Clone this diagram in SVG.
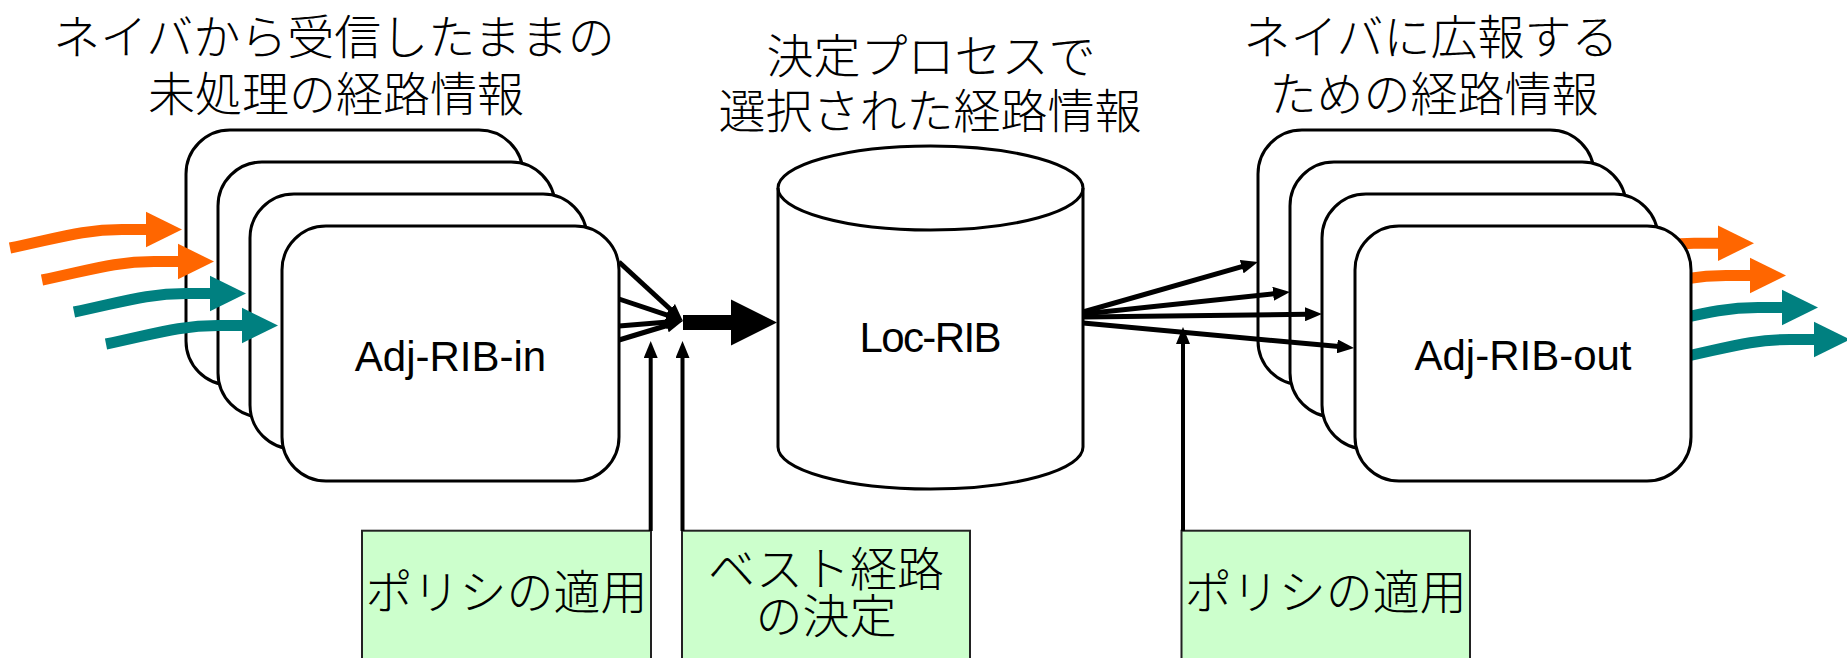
<svg xmlns="http://www.w3.org/2000/svg" xmlns:xlink="http://www.w3.org/1999/xlink" width="1847" height="658" viewBox="0 0 1847 658">
<style>
.box{fill:#fff;stroke:#000;stroke-width:3}
.jp{font-family:"Noto Sans CJK JP","Noto Sans CJK SC",sans-serif;font-size:47px;font-weight:300;fill:#000;text-anchor:middle}
.lbl{font-family:"Liberation Sans",Arial,sans-serif;font-size:42px;fill:#000;text-anchor:middle}
.pol{fill:#CCFFCC;stroke:#222;stroke-width:2}
.fan{stroke:#000;stroke-width:5;fill:none}
.vert{stroke:#000;stroke-width:4;fill:none}
</style>
<defs>
<marker id="ah" markerUnits="userSpaceOnUse" viewBox="0 0 17 14" markerWidth="17" markerHeight="14" refX="2" refY="7" orient="auto">
<path d="M0,0 L17,7 L0,14 Z" fill="#000"/>
</marker>
<g id="ca">
<path d="M-172,18.5 C-125,9 -100,0 -60,0 L-33,0" fill="none" stroke="currentColor" stroke-width="11"/>
<path d="M-36,-17.7 L0,0 L-36,17.7 Z" fill="currentColor"/>
</g>
</defs>
<rect width="1847" height="658" fill="#fff"/>

<g id="title-left">
<text class="jp" x="334" y="54">ネイバから受信したままの</text>
<text class="jp" x="336" y="111">未処理の経路情報</text>
</g>
<g id="title-mid">
<text class="jp" x="931" y="73">決定プロセスで</text>
<text class="jp" x="930" y="128">選択された経路情報</text>
</g>
<g id="title-right">
<text class="jp" x="1431" y="54">ネイバに広報する</text>
<text class="jp" x="1434" y="111">ための経路情報</text>
</g>

<g id="outgoing">
<use xlink:href="#ca" x="1754" y="243.3" color="#FF6600"/>
<use xlink:href="#ca" x="1786" y="275.5" color="#FF6600"/>
<use xlink:href="#ca" x="1818" y="307.5" color="#008080"/>
<use xlink:href="#ca" x="1850" y="339.5" color="#008080"/>
</g>

<g id="adj-rib-in">
<rect class="box" x="186" y="130" width="337" height="255" rx="44"/>
<rect class="box" x="218" y="162" width="337" height="255" rx="44"/>
<rect class="box" x="250" y="194" width="337" height="255" rx="44"/>
<rect class="box" x="282" y="226" width="337" height="255" rx="44"/>
<text class="lbl" x="450.5" y="371">Adj-RIB-in</text>
</g>

<g id="adj-rib-out">
<rect class="box" x="1258" y="130" width="336" height="255" rx="44"/>
<rect class="box" x="1290" y="162" width="336" height="255" rx="44"/>
<rect class="box" x="1322" y="194" width="336" height="255" rx="44"/>
<rect class="box" x="1355" y="226" width="336" height="255" rx="44"/>
<text class="lbl" x="1523" y="370">Adj-RIB-out</text>
</g>

<g id="loc-rib">
<path class="box" d="M778,188 A152.5,42 0 0 1 1083,188 L1083,447 A152.5,42 0 0 1 778,447 Z"/>
<path d="M778,188 A152.5,42 0 0 0 1083,188" fill="none" stroke="#000" stroke-width="3"/>
<text class="lbl" x="930.5" y="352" textLength="142">Loc-RIB</text>
</g>

<g id="incoming">
<use xlink:href="#ca" x="182" y="229.5" color="#FF6600"/>
<use xlink:href="#ca" x="214" y="261.5" color="#FF6600"/>
<use xlink:href="#ca" x="246" y="293.5" color="#008080"/>
<use xlink:href="#ca" x="278" y="325.5" color="#008080"/>
</g>

<g id="policy-in">
<rect class="pol" x="362" y="530.7" width="289" height="140"/>
<text class="jp" x="506.5" y="609">ポリシの適用</text>
</g>
<g id="best-path">
<rect class="pol" x="682" y="530.7" width="288" height="140"/>
<text class="jp" x="826" y="586">ベスト経路</text>
<text class="jp" x="826" y="633">の決定</text>
</g>
<g id="policy-out">
<rect class="pol" x="1181.5" y="530.7" width="288.5" height="140"/>
<text class="jp" x="1325.7" y="609">ポリシの適用</text>
</g>

<g id="connectors">
<line class="fan" x1="619" y1="262" x2="671.7" y2="310.5" marker-end="url(#ah)"/>
<line class="fan" x1="619" y1="299" x2="668.7" y2="315.6" marker-end="url(#ah)"/>
<line class="fan" x1="619" y1="326" x2="668" y2="322.1" marker-end="url(#ah)"/>
<line class="fan" x1="619" y1="340" x2="668.6" y2="325" marker-end="url(#ah)"/>
<path d="M683,315 L731,315 L731,299.5 L777,322.5 L731,345.5 L731,330 L683,330 Z" fill="#000"/>
<line class="fan" x1="1083" y1="312" x2="1243.6" y2="266.1" marker-end="url(#ah)"/>
<line class="fan" x1="1083" y1="314" x2="1275.1" y2="293.6" marker-end="url(#ah)"/>
<line class="fan" x1="1083" y1="317" x2="1307" y2="314.2" marker-end="url(#ah)"/>
<line class="fan" x1="1083" y1="323" x2="1339.1" y2="346.6" marker-end="url(#ah)"/>
<line class="vert" x1="650.7" y1="531" x2="650.7" y2="356" marker-end="url(#ah)"/>
<line class="vert" x1="682.5" y1="531" x2="682.5" y2="356" marker-end="url(#ah)"/>
<line class="vert" x1="1183" y1="531" x2="1183" y2="342" marker-end="url(#ah)"/>
</g>
</svg>
